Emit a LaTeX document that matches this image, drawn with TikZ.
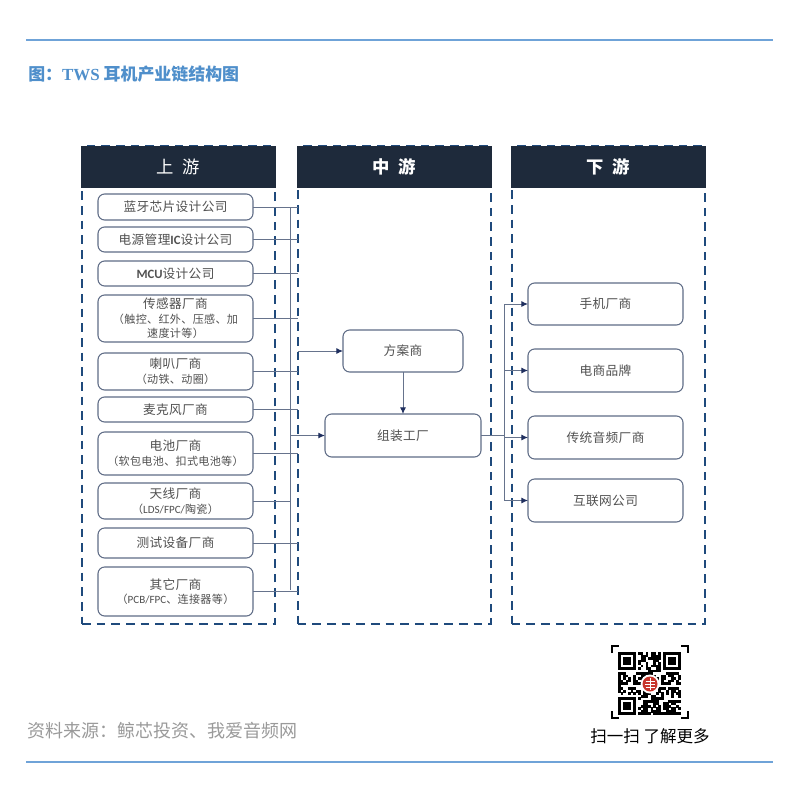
\documentclass[tikz,border=0pt]{standalone}
\usepackage{fontspec}
\setmainfont{Noto Sans CJK SC}
\newfontfamily\cjklight{Noto Sans CJK SC}[LetterSpace=3]
\newfontfamily\latf{Carlito}
\newfontfamily\serifb{Liberation Serif}[BoldFont={Liberation Serif Bold}]
\usetikzlibrary{arrows.meta}
\definecolor{rulec}{HTML}{6FA3D8}
\definecolor{titlec}{HTML}{4F8FCB}
\definecolor{headc}{HTML}{1E2A3B}
\definecolor{dashc}{HTML}{1F4A7C}
\definecolor{boxc}{HTML}{5F6C86}
\definecolor{linec}{HTML}{66738C}
\definecolor{tipc}{HTML}{1F2F5F}
\definecolor{txtc}{HTML}{505050}
\definecolor{footc}{HTML}{9A9A9A}
\definecolor{sealc}{HTML}{C8352B}
\tikzset{
  x=0.75pt,y=-0.75pt,
  panel/.style={draw=dashc,line width=1.5pt,dash pattern=on 6.5pt off 4.5pt,inner sep=0pt,outer sep=0pt},
  headbar/.style={fill=headc,inner sep=0pt,outer sep=0pt,text=white,font=\fontsize{13}{15}\selectfont},
  bx/.style={draw=boxc,line width=0.8pt,rounded corners=5pt,fill=white,inner sep=0pt,outer sep=0pt,align=center,text=txtc,font=\fontsize{9.5}{12}\cjklight},
  conn/.style={draw=linec,line width=0.7pt},
  arrowc/.style={conn,-{Latex[length=5pt,width=4.5pt,color=tipc]}},
  rulebar/.style={draw=rulec,line width=1.8pt},
  qrm/.style={fill=black,draw=none},
}
\newcommand{\pxnode}[7]{%
  \pgfmathsetmacro\bw{(#5-#3)*0.75}%
  \pgfmathsetmacro\bh{(#6-#4)*0.75}%
  \node[#1,minimum width=\bw pt,minimum height=\bh pt] (#2) at ({(#3+#5)/2},{(#4+#6)/2}) {#7};}
\newcommand{\subt}[1]{{\fontsize{8.3}{10}\cjklight #1}}
\begin{document}
\begin{tikzpicture}
\useasboundingbox[fill=white] (0,0) rectangle (800,801);
% rules
\coordinate (rt1) at (26,40); \coordinate (rt2) at (773,40);
\coordinate (rb1) at (26,762); \coordinate (rb2) at (773,762);
\draw[rulebar] (rt1) -- (rt2);
\draw[rulebar] (rb1) -- (rb2);
\node[anchor=west,inner sep=0pt,text=titlec,font=\fontsize{12.7}{14}\selectfont\bfseries] (title) at (28,74) {图：{\serifb\bfseries TWS} 耳机产业链结构图};
\node[anchor=west,inner sep=0pt,text=footc,font=\fontsize{13.5}{15}\selectfont] (foot) at (27,731) {资料来源：鲸芯投资、我爱音频网};
% panels
\pxnode{panel}{p1}{82}{146}{275}{624}{}
\pxnode{panel}{p2}{297.5}{146}{491}{624}{}
\pxnode{panel}{p3}{511.5}{146}{705}{624}{}
\pxnode{headbar}{h1}{81}{146}{275.5}{188}{上\hspace{0.5em}游}
\pxnode{headbar}{h2}{296.5}{146}{491.5}{188}{\bfseries 中\hspace{0.5em}游}
\pxnode{headbar}{h3}{510.5}{146}{705.5}{188}{\bfseries 下\hspace{0.5em}游}
% connector anchors
\coordinate (bt) at (290,207);
\coordinate (bb) at (290,590);
\coordinate (pb) at (297.5,0);
\coordinate (rbt) at (504,304);
\coordinate (rbb) at (504,500);
% upstream boxes
\pxnode{bx}{b1}{98}{194}{253}{220}{蓝牙芯片设计公司}
\pxnode{bx}{b2}{98}{227}{253}{252}{电源管理{\latf\bfseries IC}设计公司}
\pxnode{bx}{b3}{98}{261}{253}{286}{{\latf\bfseries MCU}设计公司}
\pxnode{bx}{b4}{98}{295}{253}{342}{传感器厂商\\[-1pt]\subt{（触控、红外、压感、加}\\[-1pt]\subt{速度计等）}}
\pxnode{bx}{b5}{98}{353}{253}{390}{喇叭厂商\\[-1pt]\subt{（动铁、动圈）}}
\pxnode{bx}{b6}{98}{397}{253}{422}{麦克风厂商}
\pxnode{bx}{b7}{98}{432}{253}{475}{电池厂商\\[-1pt]\subt{（软包电池、扣式电池等）}}
\pxnode{bx}{b8}{98}{483}{253}{519}{天线厂商\\[-1pt]\subt{（{\latf LDS/FPC/}陶瓷）}}
\pxnode{bx}{b9}{98}{528}{253}{558}{测试设备厂商}
\pxnode{bx}{b10}{98}{567}{253}{616}{其它厂商\\[-1pt]\subt{（{\latf PCB/FPC}、连接器等）}}
% midstream
\pxnode{bx}{fang}{343}{330}{463}{372}{方案商}
\pxnode{bx}{zu}{325}{414}{481}{457}{组装工厂}
% downstream
\pxnode{bx}{d1}{528}{283}{683}{325}{手机厂商}
\pxnode{bx}{d2}{528}{349}{683}{392}{电商品牌}
\pxnode{bx}{d3}{528}{416}{683}{459}{传统音频厂商}
\pxnode{bx}{d4}{528}{479}{683}{522}{互联网公司}
% connectors
\draw[conn] (bt) -- (bb);
\foreach \n in {b1,b2,b3,b4,b5,b6,b7,b9,b10}
  \draw[conn] (\n.east) -- (\n.east -| pb);
\draw[conn] (b8.east) -- (b8.east -| bt);
\draw[arrowc] (fang.west -| pb) -- (fang.west);
\draw[arrowc,line width=0.9pt] (zu.west -| bt) -- (zu.west);
\draw[arrowc] (fang.south) -- (fang.south |- zu.north);
\draw[conn,line width=0.9pt] (zu.east) -- (zu.east -| rbt);
\draw[conn] (rbt) -- (rbb);
\foreach \n in {d1,d2,d3,d4}
  \draw[arrowc] (\n.west -| rbt) -- (\n.west);
% QR code (drawn module by module)
\begin{scope}[shift={(618,652)}]
  \def\qs{2.52}
  \foreach \i in {0,...,24}{
    \foreach \j in {0,...,24}{
      \pgfmathtruncatemacro\skip{((\i<8)&&(\j<8))||((\i>16)&&(\j<8))||((\i<8)&&(\j>16))?1:0}
      \ifnum\skip=0
        \pgfmathtruncatemacro\val{mod(mod(\i*\i*\i,13)*3+mod(\j*\j*\j,17)*5+\i*\j*2+\i*7+\j*3,11)}
        \ifnum\val<6
          \fill[qrm] ({\i*\qs},{\j*\qs}) rectangle ++(\qs+0.2,\qs+0.2);
        \fi
      \fi
    }
  }
  \foreach \ox/\oy in {0/0,18/0,0/18}{
    \fill[qrm] ({\ox*\qs},{\oy*\qs}) rectangle ++({7*\qs},{7*\qs});
    \fill[white] ({(\ox+1)*\qs},{(\oy+1)*\qs}) rectangle ++({5*\qs},{5*\qs});
    \fill[qrm] ({(\ox+2)*\qs},{(\oy+2)*\qs}) rectangle ++({3*\qs},{3*\qs});
  }
\end{scope}
% QR seal
\fill[white] (650,684) circle[radius=9.5];
\fill[sealc] (650,684) circle[radius=7.5];
\draw[white,line width=0.4pt] (645.5,681) -- (654.5,681) (645,684) -- (655,684) (645.5,687) -- (654.5,687) (650,678) -- (650,690);
% QR brackets
\draw[black,line width=0.8pt]
  (612,653) -- (612,646) -- (619,646)
  (681,646) -- (688,646) -- (688,653)
  (612,711) -- (612,718) -- (619,718)
  (681,718) -- (688,718) -- (688,711);
\node[inner sep=0pt,text=black,font=\fontsize{12.4}{14}\selectfont] (scan) at (650,736) {扫一扫 了解更多};
\end{tikzpicture}
\end{document}
